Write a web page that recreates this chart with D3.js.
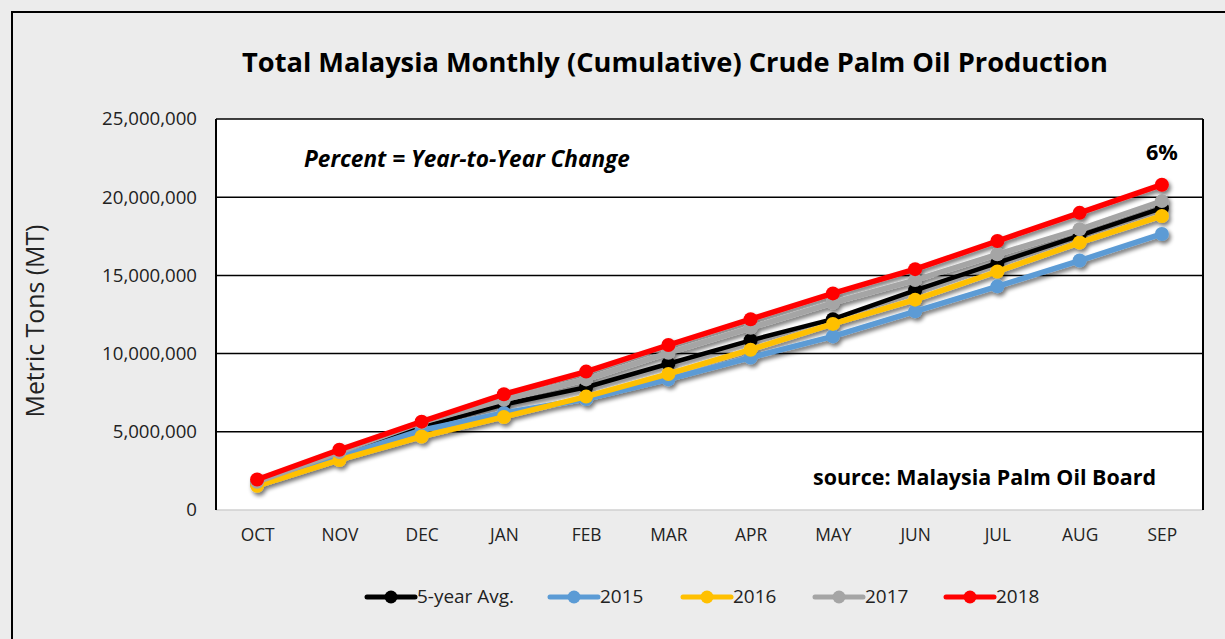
<!DOCTYPE html>
<html>
<head>
<meta charset="utf-8">
<script src="https://cdn.jsdelivr.net/npm/d3@7"></script>
<style>
  body { margin: 0; background: #ececec; }
  svg { display: block; font-family: "Open Sans", sans-serif; }
</style>
</head>
<body>
<div id="chart"></div>
<script>
// Chart data
const months = ["OCT", "NOV", "DEC", "JAN", "FEB", "MAR", "APR", "MAY", "JUN", "JUL", "AUG", "SEP"];
const avg5 = [1700000, 3500000, 5300000, 6750000, 7850000, 9350000, 10850000, 12200000, 14050000, 15800000, 17550000, 19300000];
const y2015 = [1650000, 3400000, 5100000, 6200000, 7100000, 8350000, 9750000, 11100000, 12700000, 14300000, 15950000, 17650000];
const y2016 = [1550000, 3200000, 4700000, 5950000, 7250000, 8700000, 10250000, 11900000, 13450000, 15250000, 17100000, 18800000];
const y2017 = [1800000, 3700000, 5600000, 7050000, 8350000, 10050000, 11650000, 13250000, 14700000, 16350000, 17950000, 19750000];
const y2018 = [1950000, 3850000, 5650000, 7400000, 8850000, 10550000, 12200000, 13850000, 15400000, 17200000, 19000000, 20800000];
const yTicks = [0, 5000000, 10000000, 15000000, 20000000, 25000000];
const seriesNames = ["5-year Avg.", "2015", "2016", "2017", "2018"];
const seriesColors = ["#000000", "#5b9bd5", "#ffc000", "#a5a5a5", "#ff0000"];

const series = [avg5, y2015, y2016, y2017, y2018].map((vals, i) => ({
    name: seriesNames[i], color: seriesColors[i], values: vals
}));

const width = 1225;
const height = 639;
const plot = { left: 216, top: 119, right: 1203, bottom: 510 };

const svg = d3.select("#chart").append("svg")
    .attr("width", width)
    .attr("height", height);

// scale a text's font size so it spans the wanted width (the original font is Calibri)
function fitSize(sel, target) {
    const node = sel.node();
    const size = +sel.attr("font-size");
    const w = node.getComputedTextLength();
    const newSize = size * target / w;
    sel.attr("font-size", newSize);
    return newSize;
}

// Drop shadow filter for the lines
const defs = svg.append("defs");
const shadow = defs.append("filter").attr("id", "shadow")
    .attr("x", "-10%").attr("y", "-10%").attr("width", "130%").attr("height", "130%");
shadow.append("feGaussianBlur").attr("in", "SourceAlpha").attr("stdDeviation", 2.2);
shadow.append("feOffset").attr("dx", 2).attr("dy", 3).attr("result", "off");
shadow.append("feComponentTransfer").append("feFuncA").attr("type", "linear").attr("slope", 0.55);
const merge = shadow.append("feMerge");
merge.append("feMergeNode");
merge.append("feMergeNode").attr("in", "SourceGraphic");

// Outer frame
svg.append("rect")
    .attr("x", 12).attr("y", 12)
    .attr("width", 1240).attr("height", 660)
    .attr("fill", "#ececec")
    .attr("stroke", "#000").attr("stroke-width", 2);

// Title
const title = svg.append("text")
    .attr("x", 675).attr("y", 72)
    .attr("text-anchor", "middle")
    .attr("font-size", 24).attr("font-weight", "bold")
    .attr("fill", "#000")
    .text("Total Malaysia Monthly (Cumulative) Crude Palm Oil Production");
fitSize(title, 866);

// Scales
const x = d3.scalePoint().domain(months).range([plot.left, plot.right]).padding(0.5);
const y = d3.scaleLinear().domain([0, 25000000]).range([plot.bottom, plot.top]);

// Plot area
svg.append("rect")
    .attr("x", plot.left).attr("y", plot.top)
    .attr("width", plot.right - plot.left).attr("height", plot.bottom - plot.top)
    .attr("fill", "#fff");

// Gridlines
svg.append("g").selectAll("line")
    .data(yTicks.filter(d => d > 0))
    .join("line")
    .attr("x1", plot.left).attr("x2", plot.right)
    .attr("y1", d => y(d)).attr("y2", d => y(d))
    .attr("stroke", "#000").attr("stroke-width", 1.5);
svg.append("line")
    .attr("x1", plot.left).attr("x2", plot.right)
    .attr("y1", plot.bottom).attr("y2", plot.bottom)
    .attr("stroke", "#d0d0d0").attr("stroke-width", 1.5);
svg.append("line")
    .attr("x1", plot.left).attr("x2", plot.left)
    .attr("y1", plot.top).attr("y2", plot.bottom)
    .attr("stroke", "#000").attr("stroke-width", 2);
svg.append("line")
    .attr("x1", plot.right).attr("x2", plot.right)
    .attr("y1", plot.top).attr("y2", plot.bottom)
    .attr("stroke", "#000").attr("stroke-width", 2);

// Y axis
const yAxis = svg.append("g")
    .attr("transform", `translate(${plot.left},0)`)
    .call(d3.axisLeft(y).tickValues(yTicks).tickSize(0).tickPadding(19).tickFormat(d3.format(",")));
yAxis.select(".domain").remove();
const yLabels = yAxis.selectAll("text").attr("font-size", 16).attr("fill", "#222").attr("font-family", "'Open Sans', sans-serif");
const yTickSize = fitSize(yAxis.selectAll("text").filter(d => d === 25000000), 95);
yLabels.attr("font-size", yTickSize);

// X axis
const xAxis = svg.append("g")
    .attr("transform", `translate(0,${plot.bottom})`)
    .call(d3.axisBottom(x).tickSize(0).tickPadding(19));
xAxis.select(".domain").remove();
const xLabels = xAxis.selectAll("text").attr("font-size", 16).attr("fill", "#222").attr("font-family", "'Open Sans', sans-serif");
const xTickSize = fitSize(xAxis.selectAll("text").filter(d => d === "OCT"), 34);
xLabels.attr("font-size", xTickSize);

// Y axis title
const yTitle = svg.append("text")
    .attr("transform", "translate(44,321) rotate(-90)")
    .attr("text-anchor", "middle")
    .attr("font-size", 20).attr("fill", "#222")
    .text("Metric Tons (MT)");
fitSize(yTitle, 193);

// Lines
const line = d3.line()
    .x((d, i) => x(months[i]))
    .y(d => y(d));

const lineGroup = svg.append("g").attr("filter", "url(#shadow)");
series.forEach(s => {
    const g = lineGroup.append("g");
    g.append("path")
        .datum(s.values)
        .attr("d", line)
        .attr("fill", "none")
        .attr("stroke", s.color)
        .attr("stroke-width", s.name === "5-year Avg." ? 4.5 : 5.5)
        .attr("stroke-linejoin", "round");
    g.selectAll("circle")
        .data(s.values)
        .join("circle")
        .attr("cx", (d, i) => x(months[i]))
        .attr("cy", d => y(d))
        .attr("r", 7)
        .attr("fill", s.color);
});

// Annotations
const note = svg.append("text")
    .attr("x", 304).attr("y", 167)
    .attr("font-size", 18).attr("font-weight", "bold").attr("font-style", "italic")
    .attr("fill", "#000")
    .text("Percent = Year-to-Year Change");
fitSize(note, 326);

const pct = svg.append("text")
    .attr("x", x("SEP")).attr("y", 160)
    .attr("text-anchor", "middle")
    .attr("font-size", 18).attr("font-weight", "bold")
    .attr("fill", "#000")
    .text("6%");
fitSize(pct, 32);

const source = svg.append("text")
    .attr("x", 1156).attr("y", 485)
    .attr("text-anchor", "end")
    .attr("font-size", 18).attr("font-weight", "bold")
    .attr("fill", "#000")
    .text("source: Malaysia Palm Oil Board");
fitSize(source, 343);

// Legend
const legendX = [367, 550, 683, 815, 946];
const legend = svg.append("g").attr("transform", "translate(0,597)");
let legendSize = null;
series.forEach((s, i) => {
    const g = legend.append("g").attr("transform", `translate(${legendX[i]},0)`);
    g.append("line")
        .attr("x1", 0).attr("x2", 48)
        .attr("stroke", s.color).attr("stroke-width", 5).attr("stroke-linecap", "round");
    g.append("circle").attr("cx", 24).attr("r", 6.5).attr("fill", s.color);
    const t = g.append("text")
        .attr("x", 50).attr("y", 6)
        .attr("font-size", 16).attr("fill", "#222")
        .text(s.name);
    if (i === 0) legendSize = fitSize(t, 97);
    else t.attr("font-size", legendSize);
});
</script>
</body>
</html>
